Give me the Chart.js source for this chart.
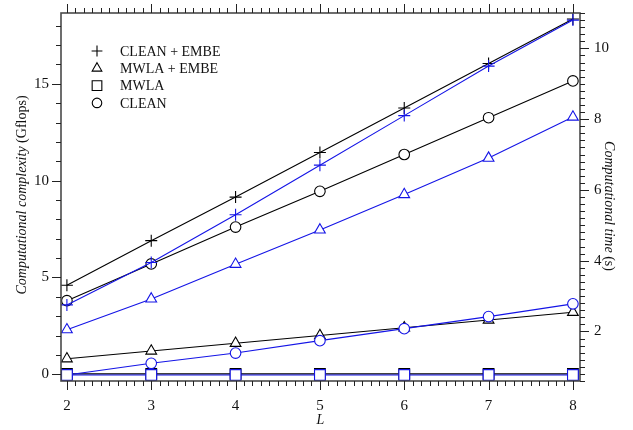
<!DOCTYPE html>
<html>
<head>
<meta charset="utf-8">
<script src="https://cdn.jsdelivr.net/npm/chart.js@4.4.1/dist/chart.umd.min.js"></script>
<style>
html,body{margin:0;padding:0;background:#fff;}
#wrap{width:633px;height:430px;}
</style>
</head>
<body>
<div id="wrap"><canvas id="c" width="633" height="430"></canvas></div>
<script>
// ---- data ----
const L = [2, 3, 4, 5, 6, 7, 8];
const seriesLabels = ['CLEAN + EMBE', 'MWLA + EMBE', 'MWLA', 'CLEAN'];
// computational complexity (Gflops), left axis, black
const gflopsCleanEmbe = [4.6, 6.9, 9.15, 11.45, 13.75, 16.05, 18.35];
const gflopsMwlaEmbe  = [0.8, 1.2, 1.6, 2.0, 2.4, 2.8, 3.2];
const gflopsMwla      = [0.02, 0.02, 0.02, 0.02, 0.02, 0.02, 0.02];
const gflopsClean     = [3.8, 5.7, 7.6, 9.45, 11.35, 13.25, 15.15];
// computational time (s), right axis, blue
const timeCleanEmbe = [2.75, 3.95, 5.3, 6.7, 8.1, 9.5, 10.8];
const timeMwlaEmbe  = [2.05, 2.92, 3.9, 4.87, 5.87, 6.9, 8.06];
const timeMwla      = [0.77, 0.77, 0.77, 0.77, 0.77, 0.77, 0.77];
const timeClean     = [0.77, 1.1, 1.39, 1.74, 2.08, 2.42, 2.78];
// tick labels
const xTicks = [2, 3, 4, 5, 6, 7, 8];
const leftTicks = [0, 5, 10, 15];
const rightTicks = [2, 4, 6, 8, 10];

const FONT = '"Liberation Serif", "Times New Roman", serif';
const BLACK = '#000000';
const BLUE = '#1414e6';
const styles = ['cross', 'triangle', 'rect', 'circle'];
const radii = [6, 6.2, 7.6, 5.3];

function pts(arr) { return L.map((x, i) => ({x: x, y: arr[i]})); }

const gflopsSets = [gflopsCleanEmbe, gflopsMwlaEmbe, gflopsMwla, gflopsClean];
const timeSets = [timeCleanEmbe, timeMwlaEmbe, timeMwla, timeClean];

const datasets = [];
seriesLabels.forEach((lab, i) => {
  datasets.push({
    label: lab, data: pts(gflopsSets[i]), yAxisID: 'y', order: 2,
    borderColor: BLACK, backgroundColor: '#fff', borderWidth: 1.1,
    pointStyle: styles[i], pointRadius: radii[i], pointBorderWidth: 1.1,
    pointBackgroundColor: '#fff', pointBorderColor: BLACK, clip: false, legendShow: true
  });
});
seriesLabels.forEach((lab, i) => {
  datasets.push({
    label: lab + ' (time)', data: pts(timeSets[i]), yAxisID: 'y2', order: 1,
    borderColor: BLUE, backgroundColor: '#fff', borderWidth: 1.1,
    pointStyle: styles[i], pointRadius: radii[i], pointBorderWidth: 1.1,
    pointBackgroundColor: '#fff', pointBorderColor: BLUE, clip: false, legendShow: false
  });
});

function noPad(s) { s.paddingTop = 0; s.paddingBottom = 0; s.paddingLeft = 0; s.paddingRight = 0; }

const decoPlugin = {
  id: 'deco',
  afterDraw(chart) {
    const ctx = chart.ctx;
    const a = chart.chartArea;
    const xs = chart.scales.x, ys = chart.scales.y, y2 = chart.scales.y2;
    ctx.save();
    // frame
    ctx.strokeStyle = '#4a4a4a';
    ctx.lineWidth = 1.6;
    ctx.strokeRect(a.left, a.top, a.right - a.left, a.bottom - a.top);
    ctx.strokeStyle = '#222';
    ctx.lineWidth = 1;
    ctx.beginPath();
    // x ticks (bottom and top)
    for (let i = 19; i <= 81; i++) {
      const v = i / 10;
      if (v < xs.min || v > xs.max) continue;
      const px = Math.round(xs.getPixelForValue(v)) + 0.5;
      const len = (i % 10 === 0) ? 9 : 5;
      ctx.moveTo(px, a.bottom); ctx.lineTo(px, a.bottom + len);
      ctx.moveTo(px, a.top); ctx.lineTo(px, a.top - len);
    }
    // left ticks
    for (let v = 0; v <= 19; v++) {
      if (v < ys.min || v > ys.max) continue;
      const py = Math.round(ys.getPixelForValue(v)) + 0.5;
      const len = (v % 5 === 0) ? 9 : 5;
      ctx.moveTo(a.left, py); ctx.lineTo(a.left - len, py);
    }
    // right ticks
    for (let i = 0; i <= 60; i++) {
      const v = i / 5;
      if (v < y2.min || v > y2.max) continue;
      const py = Math.round(y2.getPixelForValue(v)) + 0.5;
      const len = (i % 10 === 0) ? 9 : 5;
      ctx.moveTo(a.right, py); ctx.lineTo(a.right + len, py);
    }
    ctx.stroke();

    // axis titles with mixed italic/upright
    function mixed(parts, cx, cy, rot) {
      ctx.save();
      ctx.translate(cx, cy);
      ctx.rotate(rot);
      ctx.fillStyle = '#111';
      ctx.textBaseline = 'middle';
      ctx.textAlign = 'left';
      let total = 0;
      const widths = parts.map(p => { ctx.font = (p[1] ? 'italic ' : '') + '14px ' + FONT; const w = ctx.measureText(p[0]).width; total += w; return w; });
      let x = -total / 2;
      parts.forEach((p, k) => { ctx.font = (p[1] ? 'italic ' : '') + '14px ' + FONT; ctx.fillText(p[0], x, 0); x += widths[k]; });
      ctx.restore();
    }
    mixed([['Computational complexity', true], [' (Gflops)', false]], 22, 195, -Math.PI / 2);
    mixed([['Computational time', true], [' (s)', false]], 609, 206, Math.PI / 2);
    mixed([['L', true]], (a.left + a.right) / 2, 420, 0);

    // legend (black series only)
    const legX = 97, textX = 120, y0 = 51, dy = 17.3;
    let row = 0;
    chart.data.datasets.forEach((ds) => {
      if (!ds.legendShow) return;
      const yy = y0 + row * dy;
      ctx.strokeStyle = BLACK; ctx.fillStyle = '#fff'; ctx.lineWidth = 1.1;
      Chart.helpers.drawPoint(ctx, {pointStyle: ds.pointStyle, radius: ds.pointRadius * 0.9, rotation: 0, borderWidth: 1.1}, legX, yy);
      ctx.fillStyle = '#111';
      ctx.font = '14px ' + FONT;
      ctx.textBaseline = 'middle';
      ctx.textAlign = 'left';
      ctx.fillText(ds.label, textX, yy + 1);
      row++;
    });
    ctx.restore();
  }
};

new Chart(document.getElementById('c'), {
  type: 'line',
  data: { datasets: datasets },
  options: {
    responsive: false,
    animation: false,
    devicePixelRatio: 1,
    layout: { padding: { top: 13, left: 0, right: 0, bottom: 0 } },
    plugins: { legend: { display: false }, tooltip: { enabled: false } },
    elements: { line: { tension: 0, fill: false } },
    scales: {
      x: {
        type: 'linear', position: 'bottom', min: 1.93, max: 8.084,
        afterBuildTicks: s => { s.ticks = xTicks.map(v => ({value: v})); },
        afterFit: s => { s.height = 49; noPad(s); },
        grid: { display: false, drawTicks: false },
        border: { display: false },
        ticks: { padding: 16, color: '#111', font: { family: FONT, size: 15 }, maxRotation: 0, autoSkip: false }
      },
      y: {
        type: 'linear', position: 'left', min: -0.35, max: 18.66,
        afterBuildTicks: s => { s.ticks = leftTicks.map(v => ({value: v})); },
        afterFit: s => { s.width = 61; noPad(s); },
        grid: { display: false, drawTicks: false },
        border: { display: false },
        ticks: { padding: 12, color: '#111', font: { family: FONT, size: 15 }, autoSkip: false }
      },
      y2: {
        type: 'linear', position: 'right', min: 0.6, max: 11,
        afterBuildTicks: s => { s.ticks = rightTicks.map(v => ({value: v})); },
        afterFit: s => { s.width = 53; noPad(s); },
        grid: { display: false, drawTicks: false },
        border: { display: false },
        ticks: { padding: 14, color: '#111', font: { family: FONT, size: 15 }, autoSkip: false }
      }
    }
  },
  plugins: [decoPlugin]
});
</script>
</body>
</html>
